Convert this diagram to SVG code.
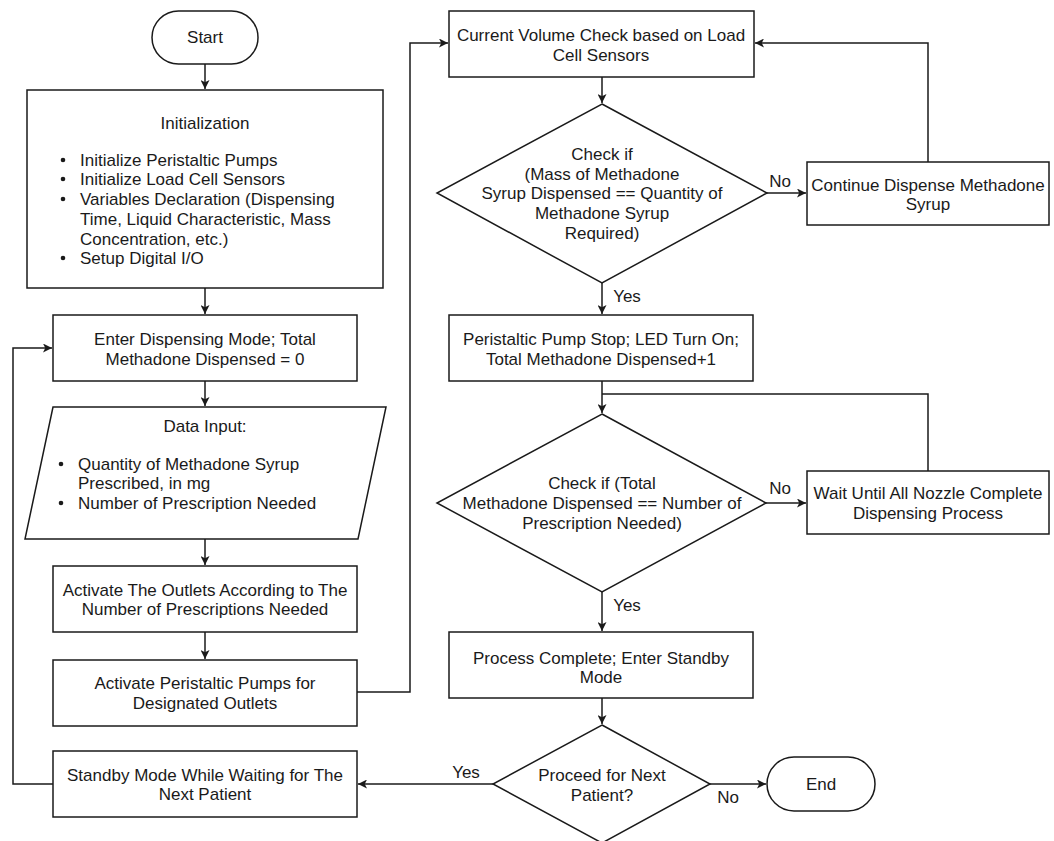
<svg xmlns="http://www.w3.org/2000/svg" width="1054" height="841" viewBox="0 0 1054 841">
  <style>
    .shape { fill: #ffffff; stroke: #1a1a1a; stroke-width: 1.5; }
    .edge { fill: none; stroke: #1a1a1a; stroke-width: 1.5; }
    text { font-family: "Liberation Sans", Arial, sans-serif; font-size: 17px; fill: #1a1a1a; }
    .c { text-anchor: middle; }
  </style>
  <defs>
    <marker id="arrow" viewBox="0 0 10 10" refX="10" refY="5" markerWidth="9" markerHeight="9" markerUnits="userSpaceOnUse" orient="auto">
      <path d="M0,0 L10,5 L0,10 L2.5,5 z" fill="#1a1a1a"/>
    </marker>
  </defs>
  <rect width="1054" height="841" fill="#ffffff"/>

  <!-- connectors -->
  <g id="connectors">
    <path class="edge" d="M205,64 V89" marker-end="url(#arrow)"/>
    <path class="edge" d="M205,288 V314" marker-end="url(#arrow)"/>
    <path class="edge" d="M205,381 V406" marker-end="url(#arrow)"/>
    <path class="edge" d="M205,539 V565" marker-end="url(#arrow)"/>
    <path class="edge" d="M205,632 V659" marker-end="url(#arrow)"/>
    <path class="edge" d="M357,692 H410 V43 H448" marker-end="url(#arrow)"/>
    <path class="edge" d="M602,77 V103" marker-end="url(#arrow)"/>
    <path class="edge" d="M767,193 H806" marker-end="url(#arrow)"/>
    <path class="edge" d="M928,162 V43 H755" marker-end="url(#arrow)"/>
    <path class="edge" d="M602,283 V314" marker-end="url(#arrow)"/>
    <path class="edge" d="M602,381 V413" marker-end="url(#arrow)"/>
    <path class="edge" d="M928,471 V394 H602"/>
    <path class="edge" d="M766,503 H806" marker-end="url(#arrow)"/>
    <path class="edge" d="M602,592 V631" marker-end="url(#arrow)"/>
    <path class="edge" d="M602,698 V724" marker-end="url(#arrow)"/>
    <path class="edge" d="M493,784 H358" marker-end="url(#arrow)"/>
    <path class="edge" d="M710,784 H766" marker-end="url(#arrow)"/>
    <path class="edge" d="M53,784 H13 V348 H52" marker-end="url(#arrow)"/>

    <text x="780" y="187" class="c">No</text>
    <text x="627" y="302" class="c">Yes</text>
    <text x="780" y="494" class="c">No</text>
    <text x="627" y="611" class="c">Yes</text>
    <text x="466" y="778" class="c">Yes</text>
    <text x="728" y="803" class="c">No</text>
  </g>

  <g id="start">
    <rect class="shape" x="152" y="11" width="106" height="53" rx="26.5"/>
    <text x="205" y="43" class="c">Start</text>
  </g>

  <g id="initialization">
    <rect class="shape" x="27" y="90" width="356" height="198"/>
    <text x="205" y="129" class="c">Initialization</text>
    <circle cx="63" cy="160" r="2.3" fill="#1a1a1a"/>
    <circle cx="63" cy="179" r="2.3" fill="#1a1a1a"/>
    <circle cx="63" cy="199" r="2.3" fill="#1a1a1a"/>
    <circle cx="63" cy="258" r="2.3" fill="#1a1a1a"/>
    <text x="80" y="166">Initialize Peristaltic Pumps</text>
    <text x="80" y="185">Initialize Load Cell Sensors</text>
    <text x="80" y="205">Variables Declaration (Dispensing</text>
    <text x="80" y="225">Time, Liquid Characteristic, Mass</text>
    <text x="80" y="245">Concentration, etc.)</text>
    <text x="80" y="264">Setup Digital I/O</text>
  </g>

  <g id="enter-dispensing">
    <rect class="shape" x="53" y="315" width="304" height="66"/>
    <text x="205" y="345" class="c">Enter Dispensing Mode; Total</text>
    <text x="205" y="365" class="c">Methadone Dispensed = 0</text>
  </g>

  <g id="data-input">
    <polygon class="shape" points="53,407 386,407 358,539 25,539"/>
    <text x="205" y="432" class="c">Data Input:</text>
    <circle cx="61" cy="464" r="2.3" fill="#1a1a1a"/>
    <circle cx="61" cy="503" r="2.3" fill="#1a1a1a"/>
    <text x="78" y="470">Quantity of Methadone Syrup</text>
    <text x="78" y="489">Prescribed, in mg</text>
    <text x="78" y="509">Number of Prescription Needed</text>
  </g>

  <g id="activate-outlets">
    <rect class="shape" x="53" y="566" width="304" height="66"/>
    <text x="205" y="596" class="c">Activate The Outlets According to The</text>
    <text x="205" y="615" class="c">Number of Prescriptions Needed</text>
  </g>

  <g id="activate-pumps">
    <rect class="shape" x="53" y="660" width="304" height="66"/>
    <text x="205" y="689" class="c">Activate Peristaltic Pumps for</text>
    <text x="205" y="709" class="c">Designated Outlets</text>
  </g>

  <g id="standby-waiting">
    <rect class="shape" x="53" y="751" width="304" height="66"/>
    <text x="205" y="781" class="c">Standby Mode While Waiting for The</text>
    <text x="205" y="800" class="c">Next Patient</text>
  </g>

  <g id="volume-check">
    <rect class="shape" x="449" y="11" width="305" height="66"/>
    <text x="601" y="41" class="c">Current Volume Check based on Load</text>
    <text x="601" y="61" class="c">Cell Sensors</text>
  </g>

  <g id="mass-check">
    <polygon class="shape" points="602,104 767,193 602,283 437,193"/>
    <text x="602" y="160" class="c">Check if</text>
    <text x="602" y="180" class="c">(Mass of Methadone</text>
    <text x="602" y="199" class="c">Syrup Dispensed == Quantity of</text>
    <text x="602" y="219" class="c">Methadone Syrup</text>
    <text x="602" y="239" class="c">Required)</text>
  </g>

  <g id="continue-dispense">
    <rect class="shape" x="807" y="162" width="242" height="63"/>
    <text x="928" y="191" class="c">Continue Dispense Methadone</text>
    <text x="928" y="210" class="c">Syrup</text>
  </g>

  <g id="pump-stop">
    <rect class="shape" x="449" y="315" width="304" height="66"/>
    <text x="601" y="345" class="c">Peristaltic Pump Stop; LED Turn On;</text>
    <text x="601" y="365" class="c">Total Methadone Dispensed+1</text>
  </g>

  <g id="count-check">
    <polygon class="shape" points="602,414 766,503 602,592 437,503"/>
    <text x="602" y="489" class="c">Check if (Total</text>
    <text x="602" y="509" class="c">Methadone Dispensed == Number of</text>
    <text x="602" y="529" class="c">Prescription Needed)</text>
  </g>

  <g id="wait-nozzles">
    <rect class="shape" x="807" y="471" width="242" height="63"/>
    <text x="928" y="499" class="c">Wait Until All Nozzle Complete</text>
    <text x="928" y="519" class="c">Dispensing Process</text>
  </g>

  <g id="process-complete">
    <rect class="shape" x="449" y="632" width="304" height="66"/>
    <text x="601" y="664" class="c">Process Complete; Enter Standby</text>
    <text x="601" y="683" class="c">Mode</text>
  </g>

  <g id="next-patient">
    <polygon class="shape" points="602,725 710,784 602,843 493,784"/>
    <text x="602" y="781" class="c">Proceed for Next</text>
    <text x="602" y="801" class="c">Patient?</text>
  </g>

  <g id="end">
    <rect class="shape" x="767" y="757" width="108" height="54" rx="27"/>
    <text x="821" y="790" class="c">End</text>
  </g>
</svg>
